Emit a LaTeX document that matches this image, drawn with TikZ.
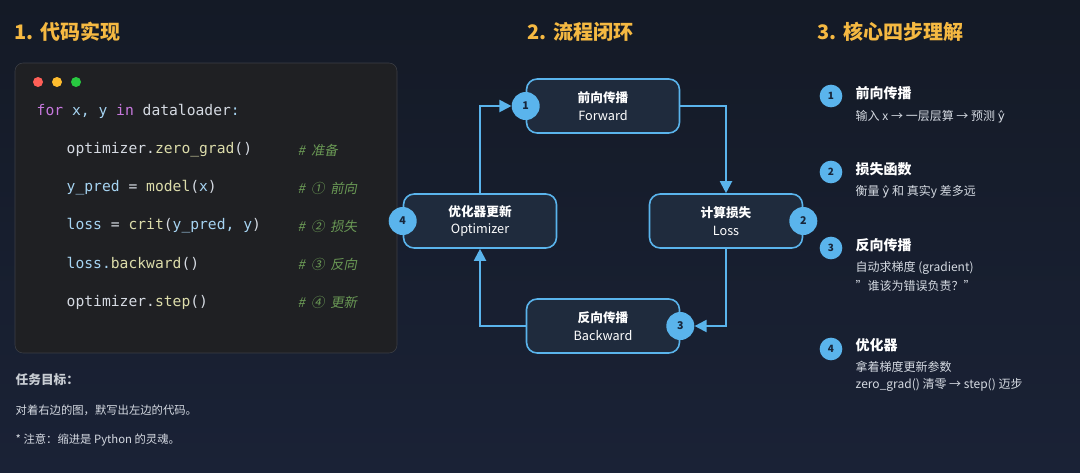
\documentclass[tikz,border=0pt]{standalone}
\usepackage{fontspec}
\setmainfont{Noto Sans CJK SC}
\setmonofont{DejaVu Sans Mono}
\newfontfamily\cmtfont[FakeSlant=0.2]{Noto Sans CJK SC}
\newfontfamily\symfont{DejaVu Sans}
\newcommand\yhat{{\symfont ŷ}}
\usetikzlibrary{arrows.meta,positioning}
\definecolor{bgtop}{HTML}{141A26}
\definecolor{bgbot}{HTML}{1A2236}
\definecolor{ttl}{HTML}{F5B942}
\definecolor{panel}{HTML}{1F2023}
\definecolor{panelln}{HTML}{3C3F46}
\definecolor{kw}{HTML}{C678DD}
\definecolor{var}{HTML}{A6D4F2}
\definecolor{fn}{HTML}{DCDCAA}
\definecolor{cmt}{HTML}{6A9955}
\definecolor{txt}{HTML}{D5DAE2}
\definecolor{boxfill}{HTML}{1F2B3D}
\definecolor{cyan}{HTML}{5AB4EC}
\definecolor{badgetxt}{HTML}{17263A}
\definecolor{dotred}{HTML}{FF5F57}
\definecolor{dotyel}{HTML}{FEBC2E}
\definecolor{dotgrn}{HTML}{28C840}
\tikzset{
  title/.style={anchor=west, text=ttl, font=\bfseries\fontsize{15}{18}\selectfont},
  code/.style={anchor=west, font=\ttfamily\fontsize{11}{13}\selectfont, text=var},
  comment/.style={anchor=west, text=cmt, font=\cmtfont\fontsize{10}{12}\selectfont},
  note/.style={anchor=west, text=txt, font=\fontsize{8.5}{10}\selectfont},
  stage/.style={draw=cyan, line width=1.2pt, fill=boxfill, rounded corners=8pt,
    minimum width=114.75pt, minimum height=40.5pt, align=center, text=white,
    font=\fontsize{9.5}{13}\selectfont},
  badge/.style={circle, fill=cyan, text=badgetxt, inner sep=0pt,
    minimum size=21pt, font=\bfseries\fontsize{8}{9}\selectfont},
  small badge/.style={badge, minimum size=17pt, font=\bfseries\fontsize{7.5}{9}\selectfont},
  flow/.style={draw=cyan, line width=1.5pt, -{Triangle[length=9pt,width=9pt]}},
  head/.style={anchor=west, text=white, font=\bfseries\fontsize{10.5}{12}\selectfont},
  sub/.style={anchor=west, text=txt, font=\fontsize{9}{11}\selectfont},
}
\begin{document}
\begin{tikzpicture}[x=0.75pt, y=-0.75pt]
	\shade[top color=bgtop, bottom color=bgbot] (0,0) rectangle (1080,472);
	\useasboundingbox (0,0) rectangle (1080,472);
	% titles
	\node[title] (t1) at (10,32)  {1. 代码实现};
	\node[title] (t2) at (523,32) {2. 流程闭环};
	\node[title] (t3) at (813,32) {3. 核心四步理解};
	% code panel
	\draw[fill=panel, draw=panelln, rounded corners=6pt] (15,63) rectangle (397,353);
	\fill[dotred] (38,82) circle (5);
	\fill[dotyel] (57,82) circle (5);
	\fill[dotgrn] (76,82) circle (5);
	\node[code] (c0) at (32,111) {\textcolor{kw}{for} x, y \textcolor{kw}{in} \textcolor{txt}{dataloader}:};
	\node[code] (c1) at (62,150) {\textcolor{txt}{optimizer.}\textcolor{fn}{zero\_grad}\textcolor{txt}{()}};
	\node[code] (c2) at (62,188) {y\_pred \textcolor{txt}{=} \textcolor{fn}{model}\textcolor{txt}{(}x\textcolor{txt}{)}};
	\node[code] (c3) at (62,226) {loss \textcolor{txt}{=} \textcolor{fn}{crit}\textcolor{txt}{(}y\_pred, y\textcolor{txt}{)}};
	\node[code] (c4) at (62,264) {loss.\textcolor{fn}{backward}\textcolor{txt}{()}};
	\node[code] (c5) at (62,302) {\textcolor{txt}{optimizer.}\textcolor{fn}{step}\textcolor{txt}{()}};
	\node[comment] (m1) at (293,150) {\#\ \ 准备};
	\node[comment] (m2) at (293,188) {\#\ \ ①\ \ 前向};
	\node[comment] (m3) at (293,226) {\#\ \ ②\ \ 损失};
	\node[comment] (m4) at (293,264) {\#\ \ ③\ \ 反向};
	\node[comment] (m5) at (293,302) {\#\ \ ④\ \ 更新};
	% notes
	\node[note, font=\bfseries\fontsize{9.5}{11}\selectfont, text=txt!85!gray] (goal) at (11,380) {任务目标：};
	\node[note] (n1) at (11,410) {对着右边的图，默写出左边的代码。};
	\node[note] (n2) at (11,440) {* 注意：缩进是 Python 的灵魂。};
	% loop
	\node[stage] (fwd)  at (603,106) {\textbf{前向传播}\\Forward};
	\node[stage] (loss) at (726,221) {\textbf{计算损失}\\Loss};
	\node[stage] (bwd)  at (603,326) {\textbf{反向传播}\\Backward};
	\node[stage] (opt)  at (480,221) {\textbf{优化器更新}\\Optimizer};
	\node[badge] (b1) at (fwd.west)  {1};
	\node[badge] (b2) at (loss.east) {2};
	\node[badge] (b3) at (bwd.east)  {3};
	\node[badge] (b4) at (opt.west)  {4};
	\draw[flow] (fwd.east) -| (loss.north);
	\draw[flow] (loss.south) |- (b3);
	\draw[flow] (bwd.west) -| (opt.south);
	\draw[flow] (opt.north) |- (b1);
	% four steps
	\node[small badge] (s1) at (831,96)  {1};
	\node[small badge] (s2) at (831,172) {2};
	\node[small badge] (s3) at (831,248) {3};
	\node[small badge] (s4) at (831,349) {4};
	\node[head] (h1) at (851,93)  {前向传播};
	\node[sub]  (d1) at (851,117) {输入 x → 一层层算 → 预测 \yhat};
	\node[head] (h2) at (851,169) {损失函数};
	\node[sub]  (d2) at (851,192) {衡量 \yhat\ 和 真实y 差多远};
	\node[head] (h3) at (851,245) {反向传播};
	\node[sub]  (d3) at (851,268) {自动求梯度 (gradient)};
	\node[sub]  (e3) at (851,286) {\symbol{34}谁该为错误负责？\symbol{34}};
	\node[head] (h4) at (851,345) {优化器};
	\node[sub]  (d4) at (851,367) {拿着梯度更新参数};
	\node[sub]  (e4) at (851,385) {zero\_grad() 清零 → step() 迈步};
\end{tikzpicture}
\end{document}
